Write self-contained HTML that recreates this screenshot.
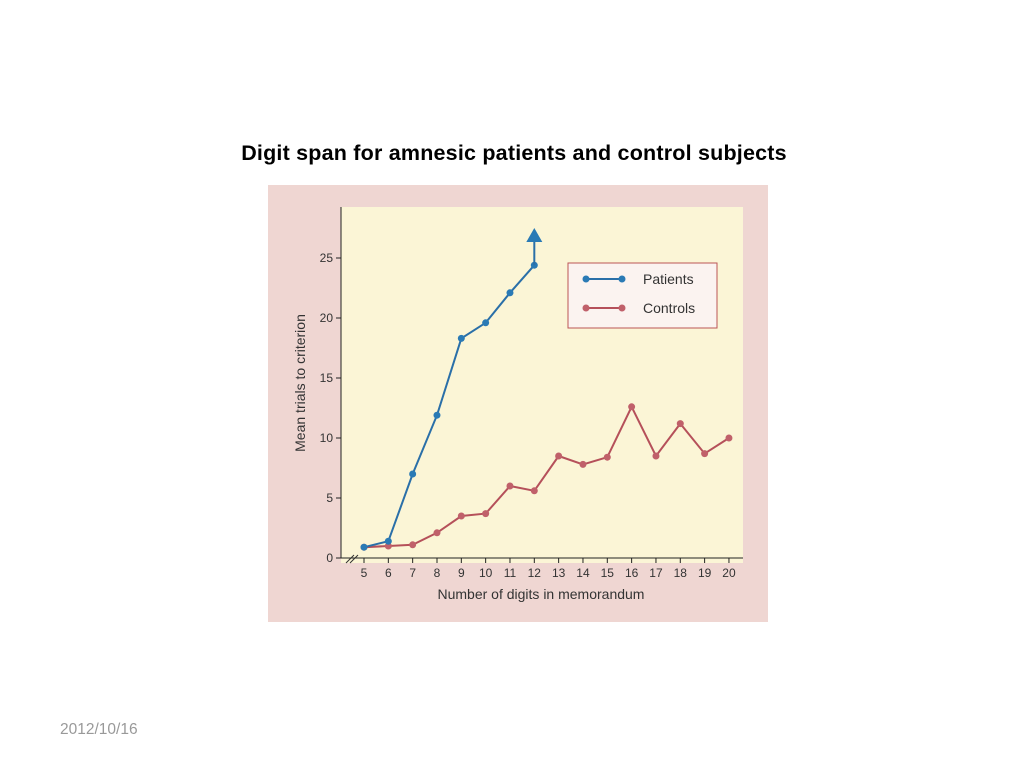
<!DOCTYPE html>
<html><head><style>
body{margin:0;width:1020px;height:765px;background:#fff;position:relative;overflow:hidden;font-family:"Liberation Sans",sans-serif}
.t{position:absolute;left:0;width:1028px;top:141px;text-align:center;font-weight:bold;font-size:21.5px;color:#000;letter-spacing:0.2px}
.d{position:absolute;left:60px;top:721px;font-size:15.5px;color:#999}
</style></head><body>
<div class="t">Digit span for amnesic patients and control subjects</div>
<div class="d">2012/10/16</div>
<svg width="1020" height="765" style="position:absolute;left:0;top:0">
<rect x="268" y="185" width="500" height="437" fill="#efd6d2"/>
<rect x="341" y="207" width="402" height="356" fill="#fbf5d6"/>
<g stroke="#222" stroke-width="1" fill="none">
<line x1="341" y1="207" x2="341" y2="558"/>
<line x1="341" y1="558" x2="743" y2="558"/>
</g>
<g stroke="#222" stroke-width="1">
<line x1="336" y1="558" x2="341" y2="558"/><line x1="336" y1="498" x2="341" y2="498"/><line x1="336" y1="438" x2="341" y2="438"/><line x1="336" y1="378" x2="341" y2="378"/><line x1="336" y1="318" x2="341" y2="318"/><line x1="336" y1="258" x2="341" y2="258"/>
</g>
<g font-size="12" fill="#333" text-anchor="end">
<text x="333" y="562">0</text><text x="333" y="502">5</text><text x="333" y="442">10</text><text x="333" y="382">15</text><text x="333" y="322">20</text><text x="333" y="262">25</text>
</g>
<g font-size="12" fill="#333" text-anchor="middle" id="xt"></g>
<text x="305" y="383" font-size="14" fill="#333" text-anchor="middle" transform="rotate(-90 305 383)">Mean trials to criterion</text>
<text x="541" y="599" font-size="14" fill="#333" text-anchor="middle">Number of digits in memorandum</text>
<path d="M346 563l8-8M350 563l8-8" stroke="#333"/>
<g id="s"></g>
<rect x="568" y="263" width="149" height="65" fill="#fbf3f0" stroke="#b55" stroke-width="1"/>
<line x1="586" y1="279" x2="622" y2="279" stroke="#2a6fa8" stroke-width="2"/>
<circle cx="586" cy="279" r="3.5" fill="#2a7ab5"/><circle cx="622" cy="279" r="3.5" fill="#2a7ab5"/>
<line x1="586" y1="308" x2="622" y2="308" stroke="#b5505a" stroke-width="2"/>
<circle cx="586" cy="308" r="3.5" fill="#c0606a"/><circle cx="622" cy="308" r="3.5" fill="#c0606a"/>
<text x="643" y="284" font-size="14" fill="#333">Patients</text>
<text x="643" y="313" font-size="14" fill="#333">Controls</text>
</svg>
<script>
var X=v=>364+(v-5)*24.33,Y=v=>558-v*12;
var xt=document.getElementById('xt'),s=document.getElementById('s'),h='';
for(var i=5;i<=20;i++){h+='<line x1="'+X(i)+'" y1="558" x2="'+X(i)+'" y2="563" stroke="#222"/><text x="'+X(i)+'" y="577">'+i+'</text>';}
xt.innerHTML=h;
var p=[0.9,1.4,7,11.9,18.3,19.6,22.1,24.4],c=[0.9,1.0,1.1,2.1,3.5,3.7,6,5.6,8.5,7.8,8.4,12.6,8.5,11.2,8.7,10];
function ser(a,col,fill){var pts=a.map((v,i)=>X(i+5)+','+Y(v)).join(' ');var o='<polyline points="'+pts+'" fill="none" stroke="'+col+'" stroke-width="2"/>';a.forEach((v,i)=>o+='<circle cx="'+X(i+5)+'" cy="'+Y(v)+'" r="3.5" fill="'+fill+'"/>');return o;}
var g='<line x1="'+X(12)+'" y1="'+Y(24.4)+'" x2="'+X(12)+'" y2="240" stroke="#2a6fa8" stroke-width="2"/><polygon points="'+(X(12)-8)+',242 '+(X(12)+8)+',242 '+X(12)+',228" fill="#2a7ab5"/>';
s.innerHTML=ser(c,'#b5505a','#c0606a')+ser(p,'#2a6fa8','#2a7ab5')+g;
</script>
</body></html>
